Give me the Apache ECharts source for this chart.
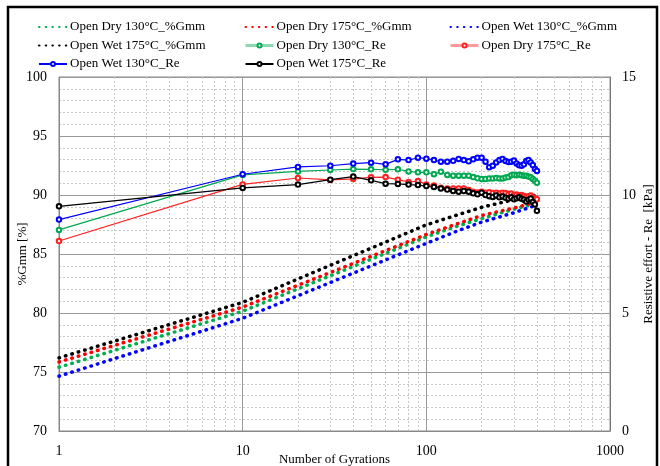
<!DOCTYPE html>
<html>
<head>
<meta charset="utf-8">
<script src="https://cdn.jsdelivr.net/npm/echarts@6/dist/echarts.min.js"></script>
<style>
  html, body { margin: 0; padding: 0; background: #fff; }
  #chart { width: 660px; height: 466px; }
</style>
</head>
<body>
<div id="chart"></div>
<script>
// %Gmm curves (left axis)
var gyrGmm = [1, 10, 20, 30, 50, 70, 100, 150, 200, 300, 400];
var dry130Gmm = [75.4, 80.15, 82.05, 83.15, 84.55, 85.47, 86.45, 87.4, 88.0, 88.8, 89.3];
var dry175Gmm = [75.85, 80.5, 82.35, 83.43, 84.8, 85.7, 86.65, 87.6, 88.26, 88.9, 89.4];
var wet130Gmm = [74.65, 79.55, 81.46, 82.58, 83.99, 84.92, 85.9, 87.0, 87.7, 88.5, 89.15];
var wet175Gmm = [76.2, 80.9, 82.88, 84.04, 85.49, 86.45, 87.47, 88.35, 88.96, 89.6, 90.0];

// resistive effort (right axis)
var gyrRe = [1, 10, 20, 30, 40, 50, 60, 70, 80, 90, 100, 110, 120, 130, 140, 150, 160, 170, 180, 190, 200,
    210, 220, 230, 240, 250, 260, 270, 280, 290, 300, 310, 320, 330, 340, 350, 360, 370, 380, 390, 400];
var dry130Re = [8.52, 10.85, 11.0, 11.06, 11.1, 11.09, 11.07, 11.09, 11.0, 10.96, 10.96, 10.88, 10.99, 10.85, 10.82,
    10.82, 10.82, 10.82, 10.76, 10.71, 10.68, 10.68, 10.7, 10.7, 10.72, 10.7, 10.7, 10.74, 10.76, 10.84, 10.86,
    10.84, 10.86, 10.84, 10.82, 10.82, 10.78, 10.75, 10.68, 10.6, 10.52];
var dry175Re = [8.05, 10.45, 10.72, 10.64, 10.68, 10.75, 10.76, 10.65, 10.55, 10.59, 10.45, 10.4, 10.31, 10.28, 10.28,
    10.28, 10.28, 10.21, 10.14, 10.11, 10.14, 10.1, 10.12, 10.08, 10.1, 10.06, 10.1, 10.08, 10.04, 10.06, 10.0,
    10.02, 9.98, 10.0, 9.96, 9.92, 9.95, 9.98, 9.9, 9.85, 9.82];
var wet130Re = [8.96, 10.88, 11.19, 11.24, 11.33, 11.37, 11.30, 11.51, 11.48, 11.58, 11.54, 11.48, 11.41, 11.41, 11.45,
    11.53, 11.48, 11.43, 11.51, 11.58, 11.58, 11.41, 11.18, 11.24, 11.38, 11.48, 11.53, 11.44, 11.4, 11.41, 11.46,
    11.34, 11.26, 11.24, 11.3, 11.44, 11.48, 11.38, 11.27, 11.1, 11.02];
var wet175Re = [9.52, 10.30, 10.44, 10.65, 10.78, 10.62, 10.48, 10.47, 10.44, 10.42, 10.38, 10.34, 10.28, 10.23, 10.17,
    10.14, 10.17, 10.14, 10.07, 10.03, 10.1, 10.0, 9.95, 9.92, 9.98, 9.9, 9.94, 9.88, 9.85, 9.9, 9.82,
    9.86, 9.9, 9.84, 9.8, 9.72, 9.8, 9.85, 9.7, 9.6, 9.33];

// minor vertical grid (gyrations between decades)
var minorGyr = [2, 3, 4, 5, 6, 7, 8, 9, 20, 30, 40, 50, 60, 70, 80, 90, 200, 300, 400, 500, 600, 700, 800, 900];

var names = ['Open Dry 130°C_%Gmm', 'Open Dry 175°C_%Gmm', 'Open Wet 130°C_%Gmm', 'Open Wet 175°C_%Gmm',
    'Open Dry 130°C_Re', 'Open Dry 175°C_Re', 'Open Wet 130°C_Re', 'Open Wet 175°C_Re'];

var FONT = 'Liberation Serif';

function pairs(xs, ys) {
    return xs.map(function (x, i) { return [x, ys[i]]; });
}

function gmmSeries(name, color, ys) {
    return {
        name: name,
        type: 'line',
        yAxisIndex: 0,
        data: pairs(gyrGmm, ys),
        symbol: 'none',
        color: color,
        lineStyle: { color: color, width: 3.5, type: [0.5, 6.2], cap: 'round' },
        z: 3
    };
}

function reSeries(name, color, ys) {
    return {
        name: name,
        type: 'line',
        yAxisIndex: 1,
        data: pairs(gyrRe, ys),
        symbol: 'emptyCircle',
        symbolSize: 4.5,
        color: color,
        lineStyle: { color: color, width: 1.2 },
        itemStyle: { color: color, borderWidth: 1 },
        z: 4
    };
}

var series = [
    gmmSeries(names[0], '#00b050', dry130Gmm),
    gmmSeries(names[1], '#ff0000', dry175Gmm),
    gmmSeries(names[2], '#0000ff', wet130Gmm),
    gmmSeries(names[3], '#000000', wet175Gmm),
    reSeries(names[4], '#00a850', dry130Re),
    reSeries(names[5], '#ff2020', dry175Re),
    reSeries(names[6], '#0000ff', wet130Re),
    reSeries(names[7], '#000000', wet175Re)
];

// minor vertical gridlines drawn via the x scale
series[0].markLine = {
    silent: true,
    symbol: 'none',
    label: { show: false },
    lineStyle: { color: '#c8c8c8', type: [2, 2], width: 1 },
    data: minorGyr.map(function (g) { return { xAxis: g }; }),
    z: 1
};

function legendCol(left, items) {
    return {
        orient: 'vertical',
        left: left,
        top: 15,
        itemWidth: 28,
        itemHeight: 5,
        itemGap: 4.5,
        textStyle: { fontFamily: FONT, fontSize: 13, color: '#000', lineHeight: 14, padding: [0, 0, 0, -2] },
        data: items
    };
}

// %Gmm legend entries: dotted line only
var dotOnly = function (n) { return { name: n, itemStyle: { opacity: 0 } }; };
// dry Re legend entries are drawn pale and thick
var paleLine = function (n) { return { name: n, lineStyle: { width: 3, opacity: 0.45 } }; };

var chart = echarts.init(document.getElementById('chart'));
chart.setOption({
    animation: false,
    backgroundColor: '#fff',
    textStyle: { fontFamily: FONT },
    graphic: [{
        type: 'rect',
        shape: { x: 8, y: 7, width: 649, height: 480 },
        style: { fill: 'none', stroke: '#000', lineWidth: 2.5 },
        silent: true
    }],
    legend: [
        legendCol(33, [dotOnly(names[0]), dotOnly(names[3]), names[6]]),
        legendCol(239, [dotOnly(names[1]), paleLine(names[4]), names[7]]),
        legendCol(444, [dotOnly(names[2]), paleLine(names[5])])
    ],
    grid: {
        left: 59, right: 50, top: 77, bottom: 35,
        outerBoundsMode: 'none', containLabel: false,
        show: true, borderColor: '#888', borderWidth: 1
    },
    xAxis: {
        type: 'log',
        logBase: 10,
        min: 1,
        max: 1000,
        name: 'Number of Gyrations',
        nameLocation: 'middle',
        nameGap: 22,
        nameMoveOverlap: false,
        nameTextStyle: { fontFamily: FONT, fontSize: 13, color: '#000' },
        axisLine: { lineStyle: { color: '#888' } },
        axisTick: { show: false },
        axisLabel: {
            fontFamily: FONT, fontSize: 14, color: '#000', margin: 13,
            formatter: function (v) { return String(Math.round(v)); }
        },
        splitLine: { show: true, lineStyle: { color: '#999', width: 1 } }
    },
    yAxis: [{
        type: 'value',
        min: 70,
        max: 100,
        interval: 5,
        name: '%Gmm [%]',
        nameLocation: 'middle',
        nameGap: 30,
        nameMoveOverlap: false,
        nameTextStyle: { fontFamily: FONT, fontSize: 13, color: '#000' },
        axisLine: { show: true, lineStyle: { color: '#888' } },
        axisTick: { show: false },
        axisLabel: { fontFamily: FONT, fontSize: 14, color: '#000', margin: 12 },
        splitLine: { show: true, lineStyle: { color: '#999', width: 1 } },
        minorTick: { show: false, splitNumber: 5 },
        minorSplitLine: { show: true, lineStyle: { color: '#c8c8c8', type: [2, 2], width: 1 } }
    }, {
        type: 'value',
        min: 0,
        max: 15,
        interval: 5,
        position: 'right',
        name: 'Resistive effort - Re  [kPa]',
        nameLocation: 'middle',
        nameGap: 32,
        nameMoveOverlap: false,
        nameTextStyle: { fontFamily: FONT, fontSize: 13, color: '#000' },
        axisLine: { show: true, lineStyle: { color: '#777' } },
        axisTick: { show: false },
        axisLabel: { fontFamily: FONT, fontSize: 14, color: '#000', margin: 12 },
        splitLine: { show: false }
    }],
    series: series
});
</script>
</body>
</html>
